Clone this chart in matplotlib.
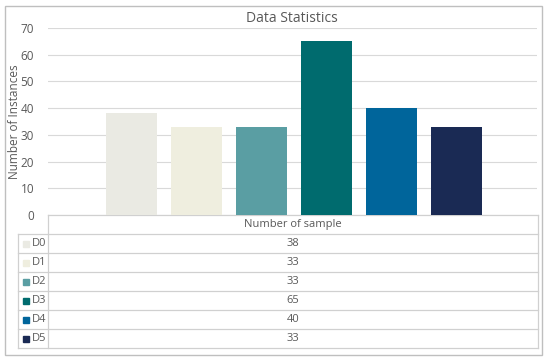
import matplotlib
matplotlib.use("Agg")
import matplotlib.pyplot as plt
from matplotlib.patches import Rectangle

# === Data ===
labels = ["D0", "D1", "D2", "D3", "D4", "D5"]
counts = [38, 33, 33, 65, 40, 33]
colors = ["#EAEAE3", "#EFEEDF", "#5A9EA3", "#006B6E", "#00659B", "#1A2A54"]
yticks = [0, 10, 20, 30, 40, 50, 60, 70]
title = "Data Statistics"
ylabel = "Number of Instances"
table_header = "Number of sample"

plt.rcParams['font.family'] = ['Open Sans', 'DejaVu Sans']
txt = "#595959"
grid_c = "#D9D9D9"

W, H = 550, 362
fig = plt.figure(figsize=(W / 100, H / 100), dpi=100)

# overlay in pixel coords for frame + table
ov = fig.add_axes([0, 0, 1, 1])
ov.set_xlim(0, W)
ov.set_ylim(H, 0)
ov.axis('off')
ov.add_patch(Rectangle((5, 6), 537, 349, fill=False, ec="#BFBFBF", lw=1))

# === Bar plot ===
px_l, px_r, px_t, px_b = 48, 537, 28, 215
ax = fig.add_axes([px_l / W, 1 - px_b / H, (px_r - px_l) / W, (px_b - px_t) / H])
step = 65.0
c0 = 131.0
x = list(range(len(labels)))
ax.bar(x, counts, width=51 / step, color=colors, zorder=3)
ax.set_xlim((px_l - c0) / step, (px_r - c0) / step)
ax.set_ylim(0, 70)
ax.set_yticks(yticks)
ax.set_xticks([])
ax.tick_params(axis='y', length=0, labelsize=8.5, labelcolor=txt, pad=10)
for s in ax.spines.values():
    s.set_visible(False)
ax.yaxis.grid(True, color=grid_c, lw=0.8, zorder=0)
ax.set_facecolor("none")
ax.set_ylabel(ylabel, fontsize=8.5, color=txt)
ax.yaxis.set_label_coords((21 - px_l) / (px_r - px_l), 0.5)

fig.text(292 / W, 1 - 18 / H, title, ha='center', va='center', fontsize=10, color=txt)

# === Data table ===
tl, tc, tr = 18, 48, 538
top = 215
rh = 19.0
nrows = len(labels)
bottom = top + rh * (nrows + 1)
lc = "#D0D0D0"
ov.plot([tc, tr], [top, top], color=lc, lw=0.9)
for i in range(1, nrows + 2):
    y = top + rh * i
    ov.plot([tl, tr], [y, y], color=lc, lw=0.9)
ov.plot([tl, tl], [top + rh, bottom], color=lc, lw=0.9)
ov.plot([tc, tc], [top, bottom], color=lc, lw=0.9)
ov.plot([tr, tr], [top, bottom], color=lc, lw=0.9)
mid = (tc + tr) / 2
ov.text(mid, top + rh / 2, table_header, ha='center', va='center', fontsize=8, color=txt)
for i, (lab, v, c) in enumerate(zip(labels, counts, colors)):
    yc = top + rh * (i + 1.5)
    ov.add_patch(Rectangle((23, yc - 3), 6, 6, color=c))
    ov.text(32, yc, lab, ha='left', va='center', fontsize=8, color=txt)
    ov.text(mid, yc, str(v), ha='center', va='center', fontsize=8, color=txt)

fig.savefig("out.png", dpi=100)
